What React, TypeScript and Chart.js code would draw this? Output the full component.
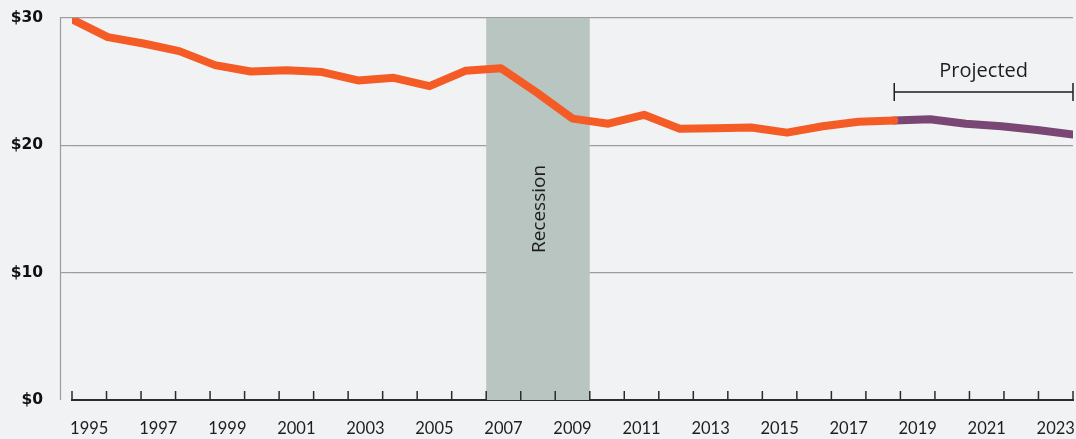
import React, { useEffect, useRef } from "react";
import { Chart, registerables } from "chart.js";

Chart.register(...registerables);

const categories = [
  "1995", "1996", "1997", "1998", "1999", "2000", "2001", "2002", "2003", "2004",
  "2005", "2006", "2007", "2008", "2009", "2010", "2011", "2012", "2013", "2014",
  "2015", "2016", "2017", "2018", "2019", "2020", "2021", "2022", "2023",
];
const values = [
  29.9, 28.5, 28.0, 27.4, 26.3, 25.8, 25.9, 25.75, 25.1, 25.3,
  24.65, 25.85, 26.05, 24.15, 22.1, 21.7, 22.4, 21.3, 21.35, 21.4,
  21.0, 21.5, 21.85, 21.95, 22.05, 21.7, 21.5, 21.2, 20.85,
];
const yTicks = [0, 10, 20, 30];
const projectedFrom = "2018";
const recessionFrom = "2007";
const recessionTo = "2009";

const BG = "#f1f2f4";
const ORANGE = "#f45b25";
const PURPLE = "#7a4775";
const GRID = "#9d9d9d";
const DARK = "#2b2b2b";
const RECESSION = "#b9c5c1";

export default function App() {
  const ref = useRef<HTMLCanvasElement | null>(null);

  useEffect(() => {
    document.body.style.margin = "0";
    document.body.style.background = BG;
    const canvas = ref.current;
    if (!canvas) return;

    const pts = categories.map((c, i) => ({ x: Number(c), y: values[i] }));
    const pIdx = categories.indexOf(projectedFrom);
    const actual = pts.slice(0, pIdx + 1);
    const projected = pts.slice(pIdx);

    const bgPlugin = {
      id: "bg",
      beforeDraw(chart: any) {
        const { ctx, width, height } = chart;
        ctx.save();
        ctx.fillStyle = BG;
        ctx.fillRect(0, 0, width, height);
        ctx.restore();
      },
    };

    const decoPlugin = {
      id: "deco",
      beforeDatasetsDraw(chart: any) {
        const { ctx, chartArea } = chart;
        const xs = chart.scales.x;
        const ys = chart.scales.y;
        const slot = (chartArea.right - chartArea.left) / categories.length;
        const i0 = categories.indexOf(recessionFrom);
        const i1 = categories.indexOf(recessionTo);
        const left = xs.getPixelForValue(i0) - slot / 2;
        const right = xs.getPixelForValue(i1) + slot / 2;
        ctx.save();
        ctx.fillStyle = RECESSION;
        ctx.fillRect(left, ys.getPixelForValue(30), right - left, ys.getPixelForValue(0) - ys.getPixelForValue(30));
        ctx.translate((left + right) / 2 + 2, 209);
        ctx.rotate(-Math.PI / 2);
        ctx.fillStyle = "#1e1e1e";
        ctx.font = '19px "Open Sans"';
        ctx.textAlign = "center";
        ctx.textBaseline = "middle";
        ctx.fillText("Recession", 0, 0);
        ctx.restore();
      },
      afterDraw(chart: any) {
        const { ctx, chartArea } = chart;
        const xs = chart.scales.x;
        const ys = chart.scales.y;
        const xd = chart.scales.xd;
        const slot = (chartArea.right - chartArea.left) / categories.length;
        ctx.save();
        ctx.strokeStyle = GRID;
        ctx.lineWidth = 1.2;
        ctx.beginPath();
        ctx.moveTo(60.5, ys.getPixelForValue(30));
        ctx.lineTo(60.5, ys.getPixelForValue(0));
        ctx.stroke();
        ctx.strokeStyle = DARK;
        ctx.lineWidth = 1.5;
        const bottom = chartArea.bottom;
        for (let i = 0; i <= categories.length; i++) {
          const px = i < categories.length ? xs.getPixelForValue(i) - slot / 2 : xs.getPixelForValue(i - 1) + slot / 2;
          ctx.beginPath();
          ctx.moveTo(px, bottom);
          ctx.lineTo(px, bottom - 9);
          ctx.stroke();
        }
        const bx0 = xd.getPixelForValue(Number(projectedFrom));
        const bx1 = xd.getPixelForValue(Number(categories[categories.length - 1]));
        const by = 92;
        ctx.strokeStyle = "#1e1e1e";
        ctx.lineWidth = 1.5;
        ctx.beginPath();
        ctx.moveTo(bx0, by);
        ctx.lineTo(bx1, by);
        ctx.moveTo(bx0, by - 9);
        ctx.lineTo(bx0, by + 9);
        ctx.moveTo(bx1, by - 9);
        ctx.lineTo(bx1, by + 9);
        ctx.stroke();
        ctx.fillStyle = "#1e1e1e";
        ctx.font = '20px "Open Sans"';
        ctx.textAlign = "center";
        ctx.textBaseline = "alphabetic";
        ctx.fillText("Projected", (bx0 + bx1) / 2, 77);
        ctx.restore();
      },
    };

    const chart = new Chart(canvas, {
      type: "line",
      data: {
        labels: categories,
        datasets: [
          {
            data: actual,
            xAxisID: "xd",
            yAxisID: "y",
            borderColor: ORANGE,
            borderWidth: 8,
            borderCapStyle: "round",
            borderJoinStyle: "round",
            pointRadius: 0,
            tension: 0,
            fill: false,
          },
          {
            data: projected,
            xAxisID: "xd",
            yAxisID: "y",
            borderColor: PURPLE,
            borderWidth: 8,
            borderCapStyle: "round",
            borderJoinStyle: "round",
            pointRadius: 0,
            tension: 0,
            fill: false,
          },
        ],
      } as any,
      options: {
        animation: false,
        responsive: true,
        maintainAspectRatio: false,
        layout: { padding: { top: 18, right: 3, left: 0, bottom: 0 } },
        plugins: { legend: { display: false }, tooltip: { enabled: false } },
        scales: {
          x: {
            type: "category",
            position: "bottom",
            offset: true,
            afterFit: (s: any) => {
              s.height = 39;
              s.paddingLeft = 0;
              s.paddingRight = 0;
            },
            grid: { display: true, drawOnChartArea: false, drawTicks: false, color: "transparent", offset: true },
            border: { display: true, color: DARK, width: 2 },
            ticks: {
              autoSkip: false,
              maxRotation: 0,
              padding: 19,
              color: "#1e1e1e",
              font: { family: "Lato", size: 16.5 },
              callback: (_v: any, i: number) => (i % 2 === 0 ? categories[i] : ""),
            },
          },
          xd: {
            type: "linear",
            display: false,
            position: "bottom",
            min: Number(categories[0]),
            max: Number(categories[categories.length - 1]),
          },
          y: {
            type: "linear",
            position: "left",
            min: 0,
            max: 30,
            afterFit: (s: any) => {
              s.width = 72;
              s.paddingTop = 0;
              s.paddingBottom = 0;
            },
            afterBuildTicks: (s: any) => { s.ticks = yTicks.map((v) => ({ value: v })); },
            grid: {
              color: (c: any) => (c.tick && c.tick.value === 0 ? "transparent" : GRID),
              lineWidth: 1.2,
              tickLength: 12,
            },
            border: { display: false },
            ticks: {
              padding: 17,
              color: "#111",
              font: { family: "DejaVu Sans", size: 15.5, weight: "bold" },
              callback: (v: any) => "$" + v,
            },
          },
        },
      } as any,
      plugins: [bgPlugin, decoPlugin],
    });

    return () => chart.destroy();
  }, []);

  return (
    <div style={{ position: "fixed", left: 0, top: 0, width: 1076, height: 439 }}>
      <canvas ref={ref} />
    </div>
  );
}
